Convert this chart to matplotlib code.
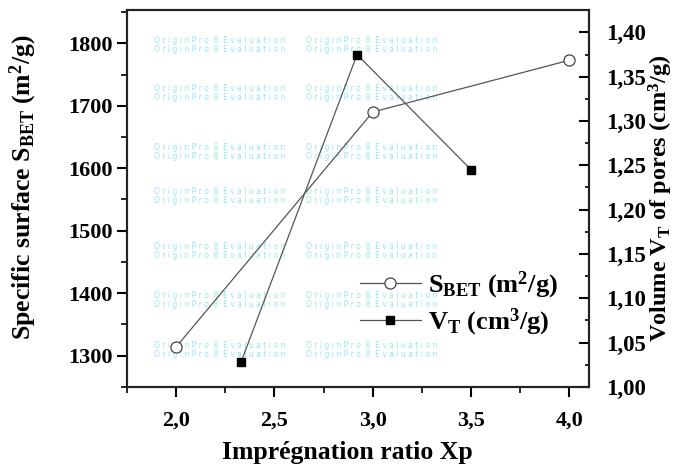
import matplotlib
matplotlib.use("Agg")
import matplotlib.pyplot as plt
from matplotlib.ticker import MultipleLocator, FuncFormatter

plt.rcParams['font.family'] = 'Liberation Serif'
plt.rcParams['font.weight'] = 'bold'
plt.rcParams['axes.labelweight'] = 'bold'
plt.rcParams['mathtext.fontset'] = 'custom'
plt.rcParams['mathtext.rm'] = 'Liberation Serif:bold'
plt.rcParams['mathtext.bf'] = 'Liberation Serif:bold'
plt.rcParams['mathtext.it'] = 'Liberation Serif:bold'
plt.rcParams['mathtext.default'] = 'bf'

# Data
xp_sbet = [2.0, 3.0, 4.0]
sbet = [1314, 1690, 1773]
xp_vt = [2.33, 2.92, 3.5]
vt = [1.028, 1.375, 1.245]

comma = FuncFormatter(lambda v, p: f"{v:.1f}".replace(".", ","))
comma2 = FuncFormatter(lambda v, p: f"{v:.2f}".replace(".", ","))

fig = plt.figure(figsize=(6.81, 4.65), dpi=100)
ax = fig.add_axes([0.1865, 0.168, 0.6785, 0.81])
ax.set_facecolor("none")
ax2 = ax.twinx()

# faint evaluation watermark (behind the plot)
wm = "O r i g i n P r o  8  E v a l u a t i o n"
wm_rows = [45, 93, 152, 196, 251, 300, 350]
for yp in wm_rows:
    for xc in [220, 372]:
        fig.text(xc / 681, 1 - yp / 465, wm + "\n" + wm,
                 color="#7fe0e6", fontsize=5.5, ha="center", va="center",
                 family="DejaVu Sans", weight="normal", alpha=0.8,
                 linespacing=0.9, zorder=-1)

l1, = ax.plot(xp_sbet, sbet, color="#555555", lw=0.9, marker="o", ms=8,
              mfc="white", mec="#444444", mew=0.9,
              label=r"S$_{BET}$ (m$^{2}$/g)")
l2, = ax2.plot(xp_vt, vt, color="#555555", lw=0.9, marker="s", ms=6,
               mfc="black", mec="black",
               label=r"V$_{T}$ (cm$^{3}$/g)")

ax.set_xlim(1.75, 4.1)
ax.set_ylim(1250, 1853)
ax2.set_ylim(1.0, 1.425)

ax.xaxis.set_major_locator(MultipleLocator(0.5))
ax.xaxis.set_minor_locator(MultipleLocator(0.25))
ax.xaxis.set_major_formatter(comma)
ax.yaxis.set_major_locator(MultipleLocator(100))
ax.yaxis.set_minor_locator(MultipleLocator(50))
ax2.yaxis.set_major_locator(MultipleLocator(0.05))
ax2.yaxis.set_minor_locator(MultipleLocator(0.025))
ax2.yaxis.set_major_formatter(comma2)

ax.tick_params(axis="both", which="major", direction="out", length=7, width=1.5,
               labelsize=16, top=False)
ax.tick_params(axis="x", which="major", pad=10)
ax.tick_params(axis="both", which="minor", direction="out", length=4, width=1.2, top=False)
ax2.tick_params(axis="y", which="major", direction="in", length=7, width=1.5,
                labelsize=16.5, pad=12)
ax2.tick_params(axis="y", which="minor", direction="in", length=3, width=1.2)

for a in (ax, ax2):
    for s in a.spines.values():
        s.set_linewidth(1.5)
        s.set_color("#222222")

ax.set_xlabel("Imprégnation ratio Xp", fontsize=18.5)
ax.xaxis.set_label_coords(0.477, -0.145)
ax.set_ylabel(r"Specific surface S$_{BET}$ (m$^{2}$/g)", fontsize=18.5)
ax.yaxis.set_label_coords(-0.19, 0.53)
ax2.set_ylabel(r"Volume V$_{T}$ of pores (cm$^{3}$/g)", fontsize=17.5)
ax2.yaxis.set_label_coords(1.125, 0.5)

ax.legend(handles=[l1, l2], loc="lower right", bbox_to_anchor=(0.985, 0.068),
          frameon=False, fontsize=19, handlelength=2.3, handletextpad=0.3,
          labelspacing=0.2)

fig.savefig("out.png", dpi=100)
